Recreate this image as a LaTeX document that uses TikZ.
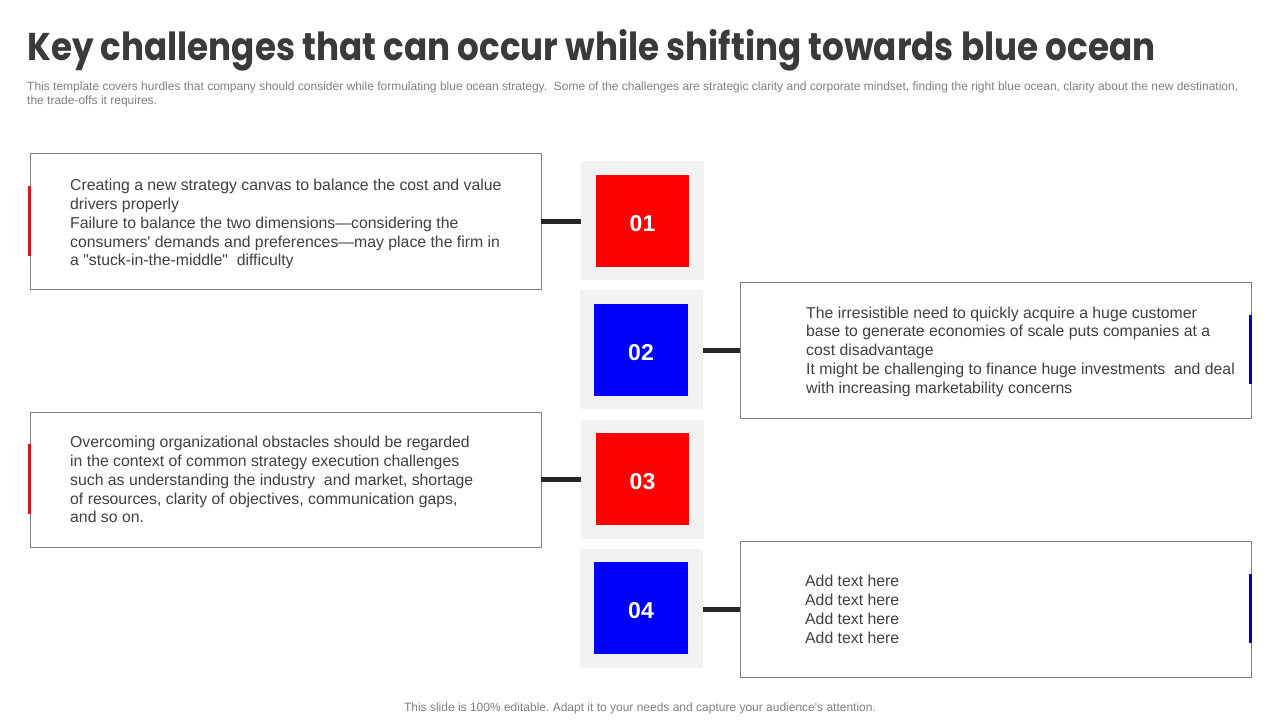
\documentclass[tikz,border=0pt]{standalone}
\usepackage{fontspec}
\usepackage{graphicx}
\setmainfont{Liberation Sans}[Ligatures=TeXOff]
\newfontfamily\titlefont{Poppins}
\frenchspacing
\definecolor{bodytext}{HTML}{404040}
\definecolor{titletext}{HTML}{3A3A3A}
\definecolor{graytext}{HTML}{808080}
\definecolor{boxline}{HTML}{808080}
\definecolor{tilegray}{HTML}{F2F2F2}
\definecolor{accred}{HTML}{D7141E}
\definecolor{accblue}{HTML}{0000C0}
\definecolor{sqred}{HTML}{FF0000}
\definecolor{sqblue}{HTML}{0000FF}
\definecolor{connector}{HTML}{262626}
\newcommand{\numtext}[1]{\raisebox{-10.3pt}[0pt][0pt]{#1}}
\tikzset{
  textbox/.style={draw=boxline, line width=0.9pt, fill=white},
  tile/.style={fill=tilegray, draw=none, minimum width=123pt, minimum height=119pt, inner sep=0pt},
  numsq/.style={draw=none, text=white, inner sep=0pt, minimum height=92pt, font=\fontsize{23}{23}\selectfont\bfseries},
  conn/.style={draw=connector, line width=5pt},
  bodytxt/.style={anchor=north west, align=left, inner sep=0pt, text=bodytext, font=\fontsize{15.8}{18.8}\selectfont},
  accentbar/.style={line width=3.2pt},
}
\begin{document}
\begin{tikzpicture}[x=1pt,y=-1pt]
\useasboundingbox (0,0) rectangle (1280,720);
\fill[white] (0,0) rectangle (1280,720);
% title
\node[anchor=base west, inner sep=0pt, text=titletext] (title) at (27,60)
  {\resizebox{1128pt}{31pt}{\titlefont\bfseries Key challenges that can occur while shifting towards blue ocean}};
\node[anchor=north west, align=left, inner sep=0pt, text=graytext, font=\fontsize{12}{14}\selectfont] (sub) at (27,82)
  {This template covers hurdles that company should consider while formulating blue ocean strategy.\ \ Some of the challenges are strategic clarity and corporate mindset, finding the right blue ocean, clarity about the new destination,\\the trade-offs it requires.};
% boxes
\draw[textbox] (30,153) rectangle (541,289);
\coordinate (b1e) at (541,221);
\draw[textbox] (740,282) rectangle (1251,418);
\coordinate (b2w) at (740,350);
\draw[textbox] (30,412) rectangle (541,547);
\coordinate (b3e) at (541,479);
\draw[textbox] (740,541) rectangle (1251,677);
\coordinate (b4w) at (740,609);
% accent bars
\draw[accentbar, accred] (29.5,186) -- (29.5,256);
\draw[accentbar, accblue] (1250.5,315) -- (1250.5,384);
\draw[accentbar, accred] (29.5,444) -- (29.5,514);
\draw[accentbar, accblue] (1250.5,574) -- (1250.5,643);
% tiles
\node[tile] (t1) at (642.5,220.5) {};
\node[tile] (t2) at (641.5,349.5) {};
\node[tile] (t3) at (642.5,479.5) {};
\node[tile] (t4) at (641.5,608.5) {};
\node[numsq, fill=sqred, minimum width=93pt] (n1) at (642.5,221) {\numtext{01}};
\node[numsq, fill=sqblue, minimum width=94pt] (n2) at (641,350) {\numtext{02}};
\node[numsq, fill=sqred, minimum width=93pt] (n3) at (642.5,479) {\numtext{03}};
\node[numsq, fill=sqblue, minimum width=94pt] (n4) at (641,608) {\numtext{04}};
% connectors
\draw[conn] (b1e) -- (t1.west |- b1e);
\draw[conn] (t2.east |- b2w) -- (b2w);
\draw[conn] (b3e) -- (t3.west |- b3e);
\draw[conn] (t4.east |- b4w) -- (b4w);
% texts
\node[bodytxt] (x1) at (70,179) {Creating a new strategy canvas to balance the cost and value\\drivers properly\\Failure to balance the two dimensions—considering the\\consumers' demands and preferences—may place the firm in\\a "stuck-in-the-middle"\ \ difficulty};
\node[bodytxt] (x2) at (806,306.5) {The irresistible need to quickly acquire a huge customer\\base to generate economies of scale puts companies at a\\cost disadvantage\\It might be challenging to finance huge investments\ \ and deal\\with increasing marketability concerns};
\node[bodytxt] (x3) at (70,436) {Overcoming organizational obstacles should be regarded\\in the context of common strategy execution challenges\\such as understanding the industry\ \ and market, shortage\\of resources, clarity of objectives, communication gaps,\\and so on.};
\node[bodytxt] (x4) at (805,575) {Add text here\\Add text here\\Add text here\\Add text here};
% footer
\node[anchor=base, inner sep=0pt, text=graytext, font=\fontsize{12}{14}\selectfont] (foot) at (640,711)
  {This slide is 100\% editable. Adapt it to your needs and capture your audience's attention.};
\end{tikzpicture}
\end{document}
